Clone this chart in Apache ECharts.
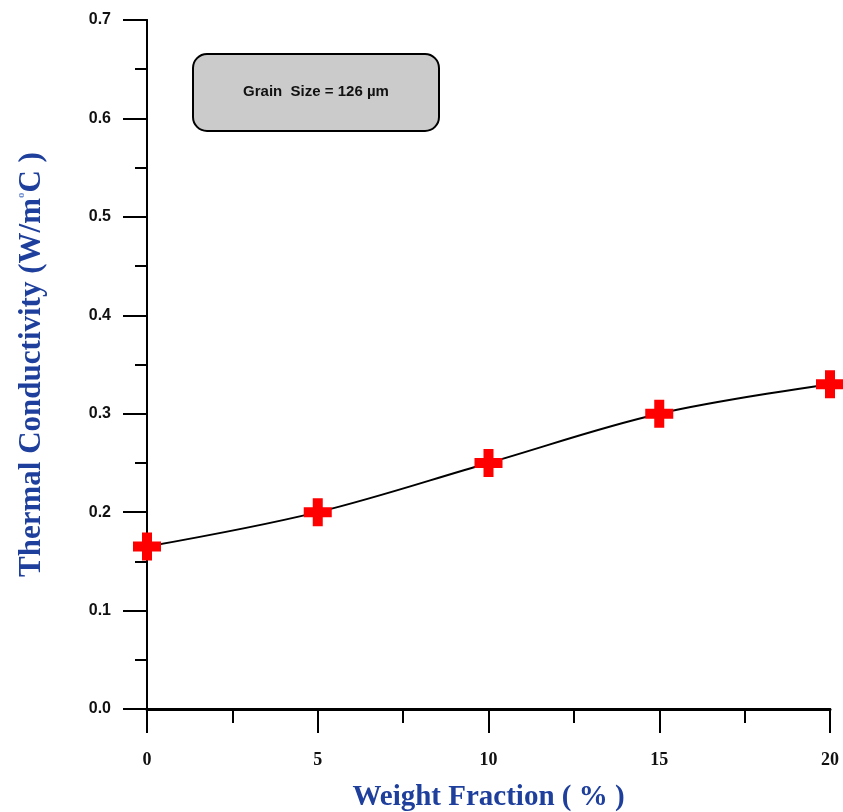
<!DOCTYPE html>
<html>
<head>
<meta charset="utf-8">
<script src="https://cdn.jsdelivr.net/npm/echarts@6/dist/echarts.min.js"></script>
<style>
  html, body { margin: 0; padding: 0; background: #fff; }
  #chart { width: 843px; height: 812px; }
</style>
</head>
<body>
<div id="chart"></div>
<script>
// Weight fraction (%) and measured thermal conductivity (W/m°C)
const weightFraction = [0, 5, 10, 15, 20];
const conductivity = [0.165, 0.2, 0.25, 0.3, 0.33];
const xTicks = [0, 5, 10, 15, 20];
const yTicks = [0.0, 0.1, 0.2, 0.3, 0.4, 0.5, 0.6, 0.7];
const noteText = 'Grain  Size = 126 µm';

const blue = '#1e3f9c';
const plusPath = 'path://M9,0H19V9H28V19H19V28H9V19H0V9H9Z';

const chart = echarts.init(document.getElementById('chart'));
chart.setOption({
  animation: false,
  backgroundColor: '#ffffff',
  grid: { left: 147, right: 13, top: 20, bottom: 103, containLabel: false, outerBoundsMode: 'none' },
  xAxis: [{
    type: 'value',
    min: xTicks[0], max: xTicks[xTicks.length - 1], interval: 5,
    name: 'Weight Fraction ( % )',
    nameLocation: 'middle', nameGap: 74,
    nameTextStyle: { fontFamily: 'Liberation Serif', fontWeight: 'bold', fontSize: 29, color: blue },
    axisLine: { show: true, onZero: false, lineStyle: { color: '#000', width: 3 } },
    axisTick: { show: true, inside: false, length: 24, lineStyle: { color: '#000', width: 2 } },
    minorTick: { show: true, splitNumber: 2, length: 14, lineStyle: { color: '#000', width: 2 } },
    axisLabel: { margin: 42, fontFamily: 'Liberation Serif', fontWeight: 'bold', fontSize: 18, color: '#111' },
    splitLine: { show: false }
  }, {
    type: 'value', position: 'top',
    min: xTicks[0], max: xTicks[xTicks.length - 1],
    axisLine: { show: true, lineStyle: { color: '#000', width: 2 } },
    axisTick: { show: false }, axisLabel: { show: false }, splitLine: { show: false }
  }],
  yAxis: [{
    type: 'value',
    min: yTicks[0], max: yTicks[yTicks.length - 1], interval: 0.1,
    name: 'Thermal Conductivity (W/m{sup|o}C )',
    nameLocation: 'middle', nameGap: 100, nameRotate: 90,
    nameTextStyle: {
      fontFamily: 'Liberation Serif', fontWeight: 'bold', fontSize: 31, color: blue,
      rich: {
        sup: { fontFamily: 'Liberation Serif', fontSize: 11, color: '#6f8fd0', verticalAlign: 'top', padding: [0, 0, 14, 0] }
      }
    },
    axisLine: { show: true, onZero: false, lineStyle: { color: '#000', width: 2 } },
    axisTick: { show: true, inside: false, length: 24, lineStyle: { color: '#000', width: 2 } },
    minorTick: { show: true, splitNumber: 2, length: 12, lineStyle: { color: '#000', width: 2 } },
    axisLabel: {
      margin: 36, fontFamily: 'Liberation Sans', fontWeight: 'bold', fontSize: 16, color: '#111',
      formatter: v => v.toFixed(1)
    },
    splitLine: { show: false }
  }, {
    type: 'value', position: 'right',
    min: yTicks[0], max: yTicks[yTicks.length - 1],
    axisLine: { show: true, lineStyle: { color: '#000', width: 2 } },
    axisTick: { show: false }, axisLabel: { show: false }, splitLine: { show: false }
  }],
  series: [{
    type: 'line',
    data: weightFraction.map((x, i) => [x, conductivity[i]]),
    smooth: 0.35,
    lineStyle: { color: '#000', width: 2 },
    symbol: plusPath,
    symbolSize: 28,
    itemStyle: { color: '#ff0000', borderWidth: 0 },
    clip: false,
    z: 5
  }],
  graphic: [{
    type: 'group',
    left: 192, top: 53,
    children: [{
      type: 'rect',
      shape: { x: 0, y: 0, width: 246, height: 77, r: 14 },
      style: { fill: '#cbcbcb', stroke: '#000', lineWidth: 2 }
    }, {
      type: 'text',
      x: 123, y: 38,
      style: {
        text: noteText, fill: '#111',
        font: 'bold 15px "Liberation Sans"',
        align: 'center', verticalAlign: 'middle'
      }
    }]
  }]
});
</script>
</body>
</html>
